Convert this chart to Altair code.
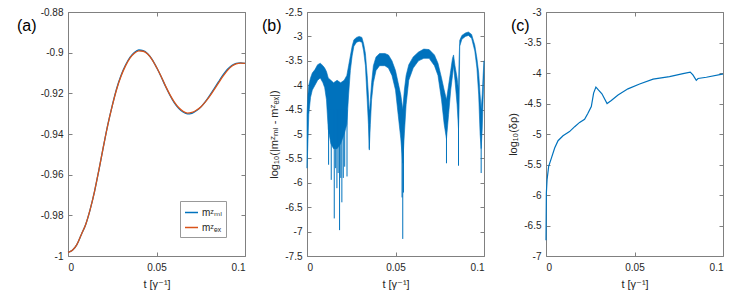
import altair as alt
import pandas as pd

FONT = "Liberation Sans, Arial, DejaVu Sans, sans-serif"
BLUE = "#0072BD"
ORANGE = "#D95319"
AXC = "#808080"
TXT = "#262626"

# ---------------- panel (a) ----------------
t_a = [0.0, 0.0025, 0.005, 0.0075, 0.01, 0.0125, 0.015, 0.0175, 0.02, 0.0225,
       0.025, 0.0275, 0.03, 0.0325, 0.035, 0.0375, 0.04, 0.0425, 0.045, 0.0475,
       0.05, 0.0525, 0.055, 0.0575, 0.06, 0.0625, 0.065, 0.0675, 0.07, 0.0725,
       0.075, 0.0775, 0.08, 0.0825, 0.085, 0.0875, 0.09, 0.0925, 0.095, 0.0975, 0.1]
mz_ml = [-0.9982, -0.9972, -0.9944, -0.9895, -0.9845, -0.9772, -0.9682, -0.9575, -0.9462, -0.9354,
         -0.9260, -0.9176, -0.9111, -0.9061, -0.9023, -0.8999, -0.8987, -0.8990, -0.9005, -0.9033,
         -0.9072, -0.9116, -0.9164, -0.9208, -0.9246, -0.9274, -0.9292, -0.9301, -0.9298, -0.9286,
         -0.9268, -0.9242, -0.9211, -0.9178, -0.9144, -0.9111, -0.9083, -0.9063, -0.9053, -0.9050, -0.9053]
mz_ex = [-0.9982, -0.9972, -0.9944, -0.9895, -0.9845, -0.9772, -0.9682, -0.9575, -0.9462, -0.9355,
         -0.9262, -0.9180, -0.9115, -0.9065, -0.9027, -0.9003, -0.8991, -0.8993, -0.9007, -0.9034,
         -0.9072, -0.9115, -0.9162, -0.9205, -0.9242, -0.9270, -0.9288, -0.9297, -0.9294, -0.9283,
         -0.9267, -0.9243, -0.9215, -0.9183, -0.9150, -0.9117, -0.9088, -0.9067, -0.9055, -0.9051, -0.9053]
series_a = ["mᶻₘₗ", "mᶻₑₓ"]

# ---------------- panel (b) ----------------
t_b = [0.0, 0.0005, 0.001, 0.002, 0.003, 0.0045, 0.006, 0.0075, 0.009, 0.01,
       0.011, 0.012, 0.0135, 0.015, 0.017, 0.019, 0.021, 0.0225, 0.0235, 0.0245,
       0.0255, 0.0265, 0.028, 0.0295, 0.031, 0.032, 0.033, 0.034, 0.0347, 0.0352,
       0.0358, 0.0365, 0.0375, 0.039, 0.041, 0.044, 0.046, 0.048, 0.05, 0.0515,
       0.053, 0.0541, 0.055, 0.056, 0.0575, 0.06, 0.063, 0.066, 0.069, 0.072,
       0.074, 0.076, 0.0775, 0.0788, 0.08, 0.0812, 0.0822, 0.0828, 0.0836, 0.0848,
       0.0856, 0.0859, 0.0863, 0.0875, 0.0895, 0.0912, 0.093, 0.0948, 0.096, 0.097,
       0.0978, 0.0984, 0.099, 0.0995, 0.1]
hi_b = [-4.6, -4.2, -4.0, -3.85, -3.75, -3.68, -3.58, -3.55, -3.6, -3.65,
        -3.72, -3.85, -3.9, -3.95, -3.9, -3.95, -3.9, -3.8, -3.6, -3.4,
        -3.2, -3.07, -3.02, -3.0, -3.02, -3.15, -3.35, -3.8, -4.2, -4.6,
        -4.3, -3.95, -3.6, -3.42, -3.35, -3.35, -3.38, -3.5, -3.7, -3.95,
        -4.2, -4.5, -4.1, -3.8, -3.58, -3.42, -3.32, -3.26, -3.27, -3.38,
        -3.55, -3.85, -4.1, -4.3, -4.0, -3.7, -3.45, -3.38, -3.6, -3.85,
        -4.1, -3.5, -3.08, -2.98, -2.93, -2.91, -2.96, -3.18, -3.45, -3.75,
        -4.2, -4.5, -4.2, -3.8, -3.5]
lo_b = [-5.7, -5.2, -4.6, -4.25, -4.1, -4.0, -3.9, -3.85, -3.95, -4.05,
        -4.3, -4.9, -5.2, -5.3, -5.3, -5.2, -5.0, -4.8, -4.2, -3.7,
        -3.4, -3.2, -3.12, -3.1, -3.12, -3.3, -3.6, -4.3, -4.8, -5.3,
        -4.8, -4.3, -3.95, -3.7, -3.6, -3.6, -3.65, -3.8, -4.1, -4.6,
        -5.1, -5.6, -5.0, -4.4, -3.9, -3.65, -3.5, -3.45, -3.45, -3.6,
        -3.8, -4.3, -4.8, -5.1, -4.6, -4.1, -3.8, -3.6, -3.9, -4.4,
        -4.9, -4.5, -3.2, -3.06, -3.0, -2.98, -3.04, -3.3, -3.65, -4.2,
        -5.0, -5.3, -4.9, -4.3, -3.8]
spike_t = [0.0122, 0.0137, 0.0154, 0.0162, 0.0169, 0.0176, 0.0184, 0.0191, 0.0197, 0.0205,
           0.0213, 0.0226, 0.0352, 0.0537, 0.0541, 0.0545, 0.0788, 0.0856, 0.0984]
spike_y = [-5.63, -5.94, -6.73, -5.7, -6.11, -5.8, -6.97, -5.9, -6.4, -5.9,
           -5.67, -5.87, -5.33, -6.3, -7.15, -6.2, -5.6, -5.65, -5.8]
spike_top = [-4.5, -4.5, -4.5, -4.5, -4.5, -4.5, -4.5, -4.5, -4.5, -4.5,
             -4.5, -4.5, -4.5, -4.5, -4.5, -4.5, -4.5, -4.5, -4.5]

# ---------------- panel (c) ----------------
t_c = [0.0, 0.0002, 0.0006, 0.0015, 0.003, 0.0049, 0.0068, 0.0096, 0.0133, 0.0162,
       0.019, 0.0218, 0.0237, 0.0256, 0.0269, 0.0282, 0.0297, 0.0316, 0.0345, 0.0369,
       0.0407, 0.0463, 0.0529, 0.0605, 0.0698, 0.0774, 0.0815, 0.083, 0.0849, 0.0859,
       0.0906, 0.0996, 0.1]
drho_c = [-6.74, -5.97, -5.75, -5.53, -5.40, -5.23, -5.11, -5.03, -4.96, -4.88,
          -4.81, -4.76, -4.66, -4.55, -4.33, -4.23, -4.28, -4.34, -4.50, -4.45,
          -4.36, -4.26, -4.18, -4.10, -4.06, -4.01, -3.985, -4.03, -4.12, -4.09,
          -4.07, -4.02, -4.02]

panel_labels = ["(a)", "(b)", "(c)"]
label_x = [-51, -45, -35]
x_ticks = [0, 0.05, 0.1]
ya_ticks = [-1, -0.98, -0.96, -0.94, -0.92, -0.9, -0.88]
yb_ticks = [-7.5, -7, -6.5, -6, -5.5, -5, -4.5, -4, -3.5, -3, -2.5]
yc_ticks = [-7, -6.5, -6, -5.5, -5, -4.5, -4, -3.5, -3]

X_TITLE = "t [γ⁻¹]"
LBL = "replace(format(datum.value, '~g'), '\u2212', '-')"
W, H = 177, 244


def xs():
    return alt.Scale(domain=[0, 0.1], nice=False, zero=False)


def ys(d):
    return alt.Scale(domain=d, nice=False, zero=False)


def x_axis():
    return alt.Axis(values=x_ticks, title=X_TITLE, orient="bottom", offset=-4, tickSize=4,
                    domain=False, labelPadding=6, titlePadding=6, labelExpr=LBL, grid=False)


def y_axis(ticks, title):
    return alt.Axis(values=ticks, title=title, orient="left", offset=-4, tickSize=4,
                    domain=False, labelPadding=5, titlePadding=5, labelExpr=LBL, grid=False)


def helper(df, xf, yf, yticks, ydom):
    return alt.Chart(df).mark_point(opacity=0).encode(
        x=alt.X(xf, scale=xs(), axis=alt.Axis(values=x_ticks, orient="top", labels=False, title=None,
                                            domain=False, offset=-4, tickSize=4, grid=False)),
        y=alt.Y(yf, scale=ys(ydom), axis=alt.Axis(values=yticks, orient="right", labels=False, title=None,
                                                domain=False, offset=-4, tickSize=4, grid=False)),
    )


def plabel(i):
    return alt.Chart(pd.DataFrame({"lab": [panel_labels[i]]})).mark_text(
        align="left", baseline="middle", fontSize=16, font=FONT, color="black"
    ).encode(x=alt.value(label_x[i]), y=alt.value(14), text="lab:N")


# panel (a)
df_a = pd.DataFrame({
    "t": t_a + t_a,
    "m": mz_ml + mz_ex,
    "s": [series_a[0]] * len(t_a) + [series_a[1]] * len(t_a),
})
dom_a = [-1, -0.88]
lines_a = alt.Chart(df_a).mark_line(strokeWidth=1.3, interpolate="monotone").encode(
    x=alt.X("t:Q", scale=xs(), axis=x_axis()),
    y=alt.Y("m:Q", scale=ys(dom_a), axis=y_axis(ya_ticks, None)),
    color=alt.Color("s:N", scale=alt.Scale(domain=series_a, range=[BLUE, ORANGE]),
                    legend=alt.Legend(orient="none", legendX=112, legendY=189, title=None,
                                      strokeColor="#999999", fillColor="white", padding=4,
                                      symbolType="stroke", symbolSize=169, symbolStrokeWidth=1.5,
                                      labelFont=FONT, labelFontSize=10, labelColor=TXT,
                                      labelOffset=3, rowPadding=2)),
    detail="s:N",
)
pa = alt.layer(lines_a, helper(df_a, "t:Q", "m:Q", ya_ticks, dom_a), plabel(0)).resolve_axis(
    x="independent", y="independent").properties(width=W, height=H)

# panel (b)
df_b = pd.DataFrame({"t": t_b, "hi": hi_b, "lo": lo_b})
df_s = pd.DataFrame({"t": spike_t, "y": spike_y, "top": spike_top})
dom_b = [-7.5, -2.5]
area_b = alt.Chart(df_b).mark_area(color=BLUE, opacity=1, stroke=BLUE, strokeWidth=0.6).encode(
    x=alt.X("t:Q", scale=xs(), axis=x_axis()),
    y=alt.Y("hi:Q", scale=ys(dom_b), axis=y_axis(yb_ticks, "log₁₀(|mᶻₘₗ - mᶻₑₓ|)")),
    y2="lo:Q",
)
spikes_b = alt.Chart(df_s).mark_rule(color=BLUE, strokeWidth=1).encode(
    x=alt.X("t:Q", scale=xs(), axis=None),
    y=alt.Y("y:Q", scale=ys(dom_b), axis=None),
    y2="top:Q",
)
pb = alt.layer(area_b, spikes_b, helper(df_b, "t:Q", "hi:Q", yb_ticks, dom_b), plabel(1)).resolve_axis(
    x="independent", y="independent").properties(width=W, height=H)

# panel (c)
df_c = pd.DataFrame({"t": t_c, "d": drho_c})
dom_c = [-7, -3]
line_c = alt.Chart(df_c).mark_line(color=BLUE, strokeWidth=1.2).encode(
    x=alt.X("t:Q", scale=xs(), axis=x_axis()),
    y=alt.Y("d:Q", scale=ys(dom_c), axis=y_axis(yc_ticks, "log₁₀(δρ)")),
)
pc = alt.layer(line_c, helper(df_c, "t:Q", "d:Q", yc_ticks, dom_c), plabel(2)).resolve_axis(
    x="independent", y="independent").properties(width=W, height=H)

chart = alt.hconcat(pa, pb, pc, spacing=62, bounds="flush").properties(
    padding={"left": 8, "top": -2, "right": 0, "bottom": 0}
).configure_view(stroke=AXC, strokeWidth=1).configure_axis(
    labelFont=FONT, labelFontSize=10, labelColor=TXT,
    titleFont=FONT, titleFontSize=11, titleFontWeight="normal", titleColor=TXT,
    tickColor=AXC,
)

chart.save("out.html", embed_options={"renderer": "svg", "actions": False})
